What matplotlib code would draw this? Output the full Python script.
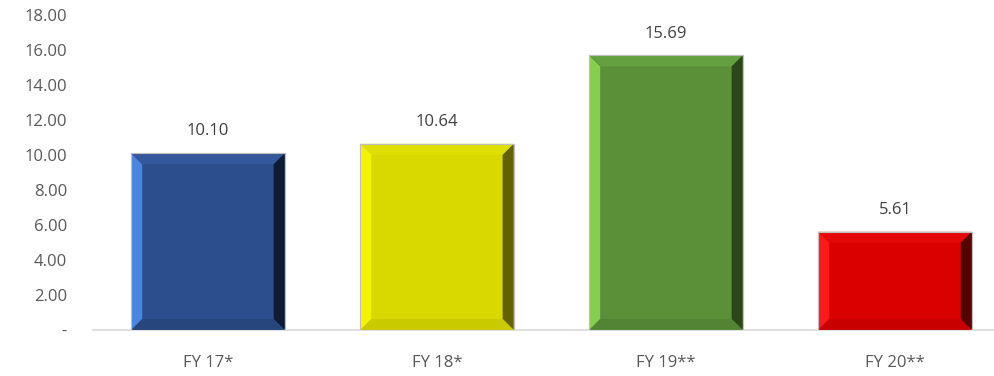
import matplotlib.pyplot as plt
from matplotlib.patches import Polygon

categories = ["FY 17*", "FY 18*", "FY 19**", "FY 20**"]
values = [10.10, 10.64, 15.69, 5.61]
value_labels = ["10.10", "10.64", "15.69", "5.61"]
y_ticks = [0, 2, 4, 6, 8, 10, 12, 14, 16, 18]
y_tick_labels = ["-", "2.00", "4.00", "6.00", "8.00", "10.00", "12.00", "14.00", "16.00", "18.00"]

# face, left, top, right, bottom
shades = [
    ("#2C4E8C", "#4A86E0", "#33599C", "#0E1B34", "#27467E"),
    ("#D9D900", "#F4F400", "#E0E000", "#626200", "#CACA00"),
    ("#5B9038", "#86CE50", "#65A040", "#2C461A", "#528434"),
    ("#DA0000", "#FF1A1A", "#E40808", "#560000", "#C80000"),
]

plt.rcParams["font.family"] = ["Open Sans", "DejaVu Sans"]
text_color = "#595959"

fig = plt.figure(figsize=(9.94, 3.76), dpi=100)
ax = fig.add_axes([0.094, 0.1223, 0.9215, 0.8378])

x = list(range(len(categories)))
bars = ax.bar(x, values, width=0.67, color=[s[0] for s in shades],
              edgecolor="#BFBFBF", linewidth=0.8, zorder=2)

ax.set_xlim(-0.5, len(categories) - 0.5)
ax.set_ylim(0, 18)

# bevel size in data units (about 11 px)
bx = 11 / 229.0
by = 11 / 17.5
for bar, s in zip(bars, shades):
    x0, y0 = bar.get_x(), bar.get_y()
    x1, y1 = x0 + bar.get_width(), y0 + bar.get_height()
    ix0, ix1, iy0, iy1 = x0 + bx, x1 - bx, y0 + by, y1 - by
    sides = [
        ([(x0, y0), (x0, y1), (ix0, iy1), (ix0, iy0)], s[1]),
        ([(x0, y1), (x1, y1), (ix1, iy1), (ix0, iy1)], s[2]),
        ([(x1, y1), (x1, y0), (ix1, iy0), (ix1, iy1)], s[3]),
        ([(x1, y0), (x0, y0), (ix0, iy0), (ix1, iy0)], s[4]),
    ]
    for pts, c in sides:
        ax.add_patch(Polygon(pts, closed=True, facecolor=c, edgecolor="none", zorder=3))
    ax.add_patch(plt.Rectangle((x0, y0), x1 - x0, y1 - y0, fill=False,
                               edgecolor="#BFBFBF", linewidth=0.8, zorder=4))

for xi, v, lab in zip(x, values, value_labels):
    ax.annotate(lab, (xi, v), xytext=(0, 10), textcoords="offset points",
                ha="center", va="bottom", fontsize=12, color="#404040")

ax.set_xticks(x)
ax.set_xticklabels(categories)
ax.set_yticks(y_ticks)
ax.set_yticklabels(y_tick_labels)
ax.tick_params(axis="both", length=0, labelsize=12, labelcolor=text_color)
ax.tick_params(axis="y", pad=19)
ax.tick_params(axis="x", pad=18)

for side in ["top", "right", "left"]:
    ax.spines[side].set_visible(False)
ax.spines["bottom"].set_color("#D9D9D9")
ax.spines["bottom"].set_linewidth(1.2)

fig.savefig("out.png", dpi=100)
